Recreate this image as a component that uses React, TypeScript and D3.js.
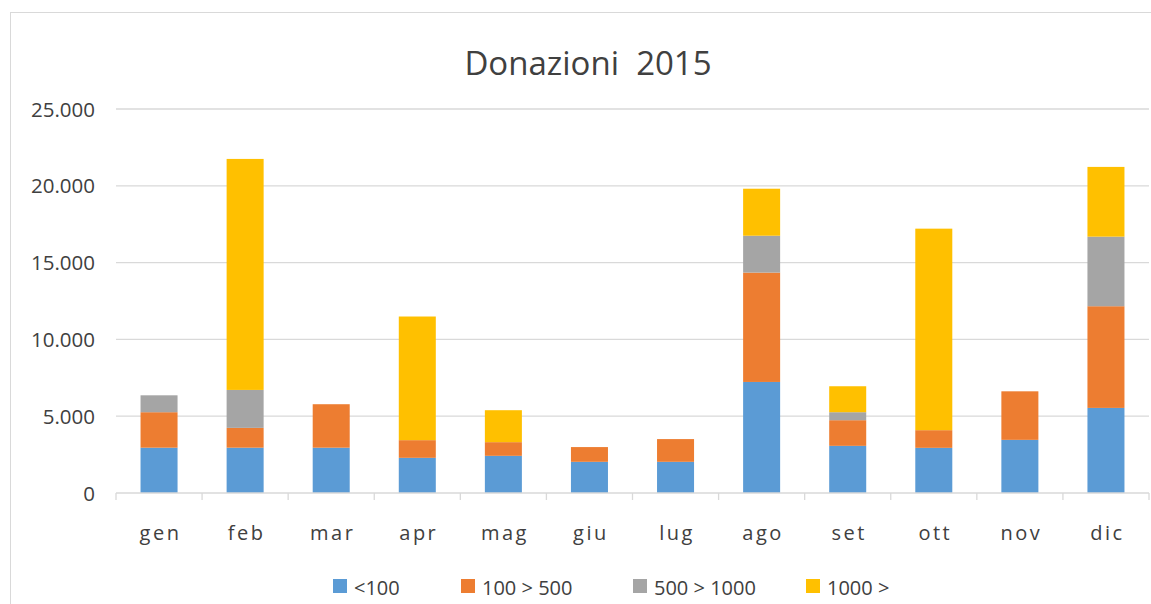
import { useEffect, useRef } from "react";
import * as d3 from "d3";

// data (euro)
const months = ["gen", "feb", "mar", "apr", "mag", "giu", "lug", "ago", "set", "ott", "nov", "dic"];
const seriesNames = ["<100", "100 > 500", "500 > 1000", "1000 >"];
const seriesColors = ["#5B9BD5", "#ED7D31", "#A5A5A5", "#FFC000"];
const under100 = [2950, 2950, 2950, 2290, 2420, 2030, 2030, 7230, 3070, 2940, 3460, 5540];
const from100to500 = [2310, 1290, 2830, 1150, 890, 960, 1480, 7120, 1670, 1150, 3160, 6620];
const from500to1000 = [1100, 2470, 0, 0, 0, 0, 0, 2400, 520, 0, 0, 4530];
const over1000 = [0, 15040, 0, 8050, 2080, 0, 0, 3060, 1690, 13120, 0, 4540];
const yTicks = [0, 5000, 10000, 15000, 20000, 25000];

const App: React.FC = () => {
    const svgRef = useRef<SVGSVGElement>(null);
    useEffect(() => {
        const width = 1151;
        const height = 604;
        const left = 116;
        const right = 1149;
        const top = 109;
        const bottom = 493;
        const font = "'Open Sans', sans-serif";

        const svg = d3.select(svgRef.current);
        svg.selectAll("*").remove();

        // chart frame
        svg.append("rect")
            .attr("x", 10.5).attr("y", 12.5)
            .attr("width", width + 20).attr("height", height + 20)
            .attr("fill", "white").attr("stroke", "#d9d9d9");

        // Title
        svg.append("text")
            .attr("x", 588).attr("y", 75)
            .attr("text-anchor", "middle")
            .style("font-family", font).style("font-size", "33px")
            .style("fill", "#404040")
            .attr("xml:space", "preserve")
            .text("Donazioni  2015");

        const x = d3.scaleBand<string>()
            .domain(months)
            .range([left, right])
            .paddingInner(0.57)
            .paddingOuter(0.285);

        const y = d3.scaleLinear()
            .domain([0, 25000])
            .range([bottom, top]);

        const fmt = (v: number) => d3.format(",")(v).replace(/,/g, ".");

        // Gridlines + y labels
        const yg = svg.append("g");
        yg.selectAll("line")
            .data(yTicks.filter(d => d > 0)).enter()
            .append("line")
            .attr("x1", left).attr("x2", right)
            .attr("y1", d => y(d)).attr("y2", d => y(d))
            .attr("stroke", "#d9d9d9").attr("stroke-width", 1.3);
        yg.selectAll("text")
            .data(yTicks).enter()
            .append("text")
            .attr("x", 95).attr("y", d => y(d) + 7.5)
            .attr("text-anchor", "end")
            .style("font-family", font).style("font-size", "20.5px")
            .style("fill", "#404040")
            .text(d => fmt(d));

        // Stacked bars
        const table = months.map((m, i) => ({
            month: m,
            s0: under100[i], s1: from100to500[i], s2: from500to1000[i], s3: over1000[i],
        }));
        const stack = d3.stack<any>().keys(["s0", "s1", "s2", "s3"]);
        const layers = stack(table);

        svg.append("g")
            .selectAll("g")
            .data(layers).enter()
            .append("g")
            .attr("fill", (_d, i) => seriesColors[i])
            .selectAll("rect")
            .data(d => d).enter()
            .append("rect")
            .attr("x", d => x(d.data.month) as number)
            .attr("width", x.bandwidth())
            .attr("y", d => y(d[1]))
            .attr("height", d => y(d[0]) - y(d[1]));

        // X axis
        const step = x.step();
        const xa = svg.append("g");
        xa.append("line")
            .attr("x1", left).attr("x2", right)
            .attr("y1", bottom).attr("y2", bottom)
            .attr("stroke", "#d9d9d9").attr("stroke-width", 1.3);
        xa.selectAll("line.tick")
            .data(d3.range(months.length + 1)).enter()
            .append("line")
            .attr("class", "tick")
            .attr("x1", d => left + d * step).attr("x2", d => left + d * step)
            .attr("y1", bottom).attr("y2", bottom + 7)
            .attr("stroke", "#d9d9d9").attr("stroke-width", 1.3);
        xa.selectAll("text")
            .data(months).enter()
            .append("text")
            .attr("x", d => (x(d) as number) + x.bandwidth() / 2 + 1.5)
            .attr("y", 540)
            .attr("text-anchor", "middle")
            .style("font-family", font).style("font-size", "20px")
            .style("letter-spacing", "2.5px")
            .style("fill", "#404040")
            .text(d => d);

        // Legend
        const legendX = [333, 461, 633, 806];
        const lg = svg.append("g");
        seriesNames.forEach((name, i) => {
            lg.append("rect")
                .attr("x", legendX[i]).attr("y", 579)
                .attr("width", 14).attr("height", 14)
                .attr("fill", seriesColors[i]);
            lg.append("text")
                .attr("x", legendX[i] + 21).attr("y", 595)
                .style("font-family", font).style("font-size", "20px")
                .style("fill", "#404040")
                .text(name);
        });
    }, []);

    return (
        <svg ref={svgRef} width={1151} height={604}
            style={{ position: "absolute", left: 0, top: 0, background: "white" }} />
    );
};

export default App;
